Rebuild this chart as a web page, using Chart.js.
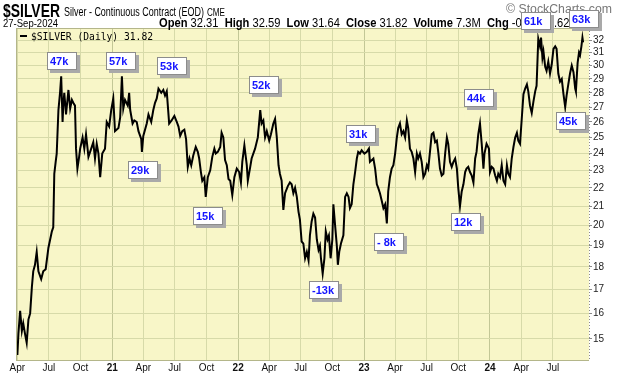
<!DOCTYPE html>
<html>
<head>
<meta charset="utf-8">
<script src="https://cdn.jsdelivr.net/npm/chart.js@4.4.1/dist/chart.umd.min.js"></script>
<style>
    html, body { margin: 0; padding: 0; background: #fff; }
    #wrap { width: 620px; height: 376px; }
</style>
</head>
<body>
<div id="wrap"><canvas id="silverChart" width="620" height="376"></canvas></div>
<script>
var dates = [
    '2020-04-01','2020-04-04','2020-04-09','2020-04-14','2020-04-18','2020-04-23','2020-04-28','2020-05-03','2020-05-08','2020-05-13',
    '2020-05-17','2020-05-22','2020-05-27','2020-06-01','2020-06-09','2020-06-15','2020-06-22','2020-06-30','2020-07-10','2020-07-14',
    '2020-07-17','2020-07-21','2020-07-24','2020-07-29','2020-08-03','2020-08-06','2020-08-10','2020-08-12','2020-08-15','2020-08-20',
    '2020-08-27','2020-09-01','2020-09-06','2020-09-10','2020-09-15','2020-09-18','2020-09-22','2020-09-27','2020-09-30','2020-10-07',
    '2020-10-12','2020-10-17','2020-10-24','2020-11-01','2020-11-07','2020-11-12','2020-11-17','2020-11-22','2020-11-27','2020-12-03',
    '2020-12-11','2020-12-16','2020-12-23','2020-12-29','2021-01-04','2021-01-09','2021-01-19','2021-01-24','2021-01-29','2021-02-02',
    '2021-02-07','2021-02-15','2021-02-19','2021-02-22','2021-03-01','2021-03-06','2021-03-13','2021-03-18','2021-03-26','2021-03-28',
    '2021-04-01','2021-04-11','2021-04-16','2021-04-24','2021-04-30','2021-05-05','2021-05-10','2021-05-15','2021-05-23','2021-05-29',
    '2021-06-03','2021-06-08','2021-06-15','2021-06-22','2021-06-30','2021-07-07','2021-07-12','2021-07-17','2021-07-23','2021-07-29',
    '2021-08-03','2021-08-08','2021-08-13','2021-08-18','2021-08-24','2021-08-31','2021-09-06','2021-09-10','2021-09-15','2021-09-19',
    '2021-09-25','2021-09-29','2021-10-05','2021-10-12','2021-10-18','2021-10-24','2021-10-28','2021-11-03','2021-11-10','2021-11-14',
    '2021-11-19','2021-11-24','2021-11-29','2021-12-04','2021-12-09','2021-12-15','2021-12-21','2021-12-28','2022-01-04','2022-01-09',
    '2022-01-13','2022-01-19','2022-01-26','2022-01-29','2022-02-05','2022-02-09','2022-02-19','2022-02-27','2022-03-06','2022-03-10',
    '2022-03-15','2022-03-20','2022-03-25','2022-04-01','2022-04-06','2022-04-13','2022-04-18','2022-04-23','2022-04-28','2022-05-02',
    '2022-05-07','2022-05-12','2022-05-17','2022-05-25','2022-05-31','2022-06-05','2022-06-10','2022-06-15','2022-06-20','2022-06-25',
    '2022-06-29','2022-07-04','2022-07-09','2022-07-14','2022-07-19','2022-07-24','2022-07-28','2022-08-02','2022-08-07','2022-08-12',
    '2022-08-17','2022-08-22','2022-08-26','2022-08-29','2022-09-03','2022-09-08','2022-09-12','2022-09-17','2022-09-21','2022-09-26',
    '2022-10-01','2022-10-04','2022-10-09','2022-10-14','2022-10-17','2022-10-21','2022-10-26','2022-11-02','2022-11-07','2022-11-12',
    '2022-11-17','2022-11-21','2022-11-26','2022-12-01','2022-12-06','2022-12-11','2022-12-15','2022-12-20','2022-12-25','2023-01-02',
    '2023-01-09','2023-01-15','2023-01-18','2023-01-28','2023-02-02','2023-02-07','2023-02-11','2023-02-16','2023-02-21','2023-02-26',
    '2023-03-03','2023-03-08','2023-03-12','2023-03-17','2023-03-22','2023-03-27','2023-04-01','2023-04-06','2023-04-10','2023-04-15',
    '2023-04-20','2023-04-25','2023-04-30','2023-05-05','2023-05-09','2023-05-14','2023-05-19','2023-05-24','2023-05-29','2023-06-03',
    '2023-06-07','2023-06-12','2023-06-17','2023-06-22','2023-06-27','2023-07-02','2023-07-06','2023-07-11','2023-07-16','2023-07-21',
    '2023-07-26','2023-07-31','2023-08-04','2023-08-09','2023-08-14','2023-08-19','2023-08-24','2023-08-29','2023-09-02','2023-09-07',
    '2023-09-12','2023-09-17','2023-09-22','2023-09-27','2023-10-01','2023-10-06','2023-10-11','2023-10-16','2023-10-21','2023-10-25',
    '2023-10-30','2023-11-04','2023-11-09','2023-11-14','2023-11-19','2023-11-23','2023-11-28','2023-12-03','2023-12-08','2023-12-13',
    '2023-12-16','2023-12-22','2023-12-29','2024-01-01','2024-01-06','2024-01-11','2024-01-16','2024-01-21','2024-01-25','2024-01-30',
    '2024-02-04','2024-02-09','2024-02-14','2024-02-19','2024-02-23','2024-02-28','2024-03-04','2024-03-09','2024-03-14','2024-03-19',
    '2024-03-23','2024-03-28','2024-04-02','2024-04-07','2024-04-12','2024-04-17','2024-04-21','2024-04-26','2024-05-01','2024-05-06',
    '2024-05-11','2024-05-15','2024-05-20','2024-05-25','2024-05-28','2024-06-01','2024-06-04','2024-06-09','2024-06-13','2024-06-18',
    '2024-06-23','2024-06-28','2024-07-03','2024-07-08','2024-07-12','2024-07-17','2024-07-22','2024-07-27','2024-08-01','2024-08-06',
    '2024-08-10','2024-08-15','2024-08-20','2024-08-25','2024-08-30','2024-09-04','2024-09-06','2024-09-11','2024-09-15','2024-09-18',
    '2024-09-22','2024-09-25','2024-09-27'
];
var closes = [
    14.4, 15.2, 16.1, 15.3, 15.6, 15.2, 14.85, 15.75, 16.0, 17.1,
    17.8, 18.1, 18.7, 17.8, 17.45, 17.8, 17.9, 18.9, 19.7, 19.9,
    22.8, 23.5, 24.0, 26.8, 28.1, 29.2, 26.0, 27.1, 28.0, 26.5,
    28.2, 26.9, 27.5, 27.3, 27.1, 24.3, 23.1, 23.8, 24.3, 25.0,
    24.3, 25.2, 23.8, 24.3, 24.7, 23.7, 24.6, 24.0, 22.6, 24.0,
    24.3, 26.0, 25.7, 26.8, 27.6, 25.4, 25.6, 26.3, 29.2, 26.9,
    27.5, 27.1, 28.0, 26.8, 25.9, 26.1, 26.0, 25.4, 24.9, 24.1,
    25.1, 25.9, 26.5, 26.0, 26.8, 27.3, 27.6, 28.3, 28.0, 28.2,
    27.8, 28.1, 25.9, 26.1, 26.4, 26.0, 25.7, 25.1, 25.4, 25.5,
    24.9, 23.2, 23.7, 23.3, 23.9, 24.4, 24.1, 23.7, 22.9, 22.4,
    22.6, 21.5, 22.6, 23.0, 23.8, 24.3, 24.0, 24.1, 24.4, 25.3,
    25.0, 23.6, 23.3, 22.5, 22.4, 21.6, 22.6, 23.1, 22.9, 22.3,
    23.5, 24.5, 23.3, 22.4, 23.2, 23.7, 24.3, 25.0, 26.8, 25.9,
    26.1, 25.0, 25.4, 24.8, 25.2, 25.9, 26.2, 25.0, 23.3, 22.8,
    22.4, 20.8, 21.7, 22.1, 22.3, 22.2, 21.7, 22.0, 21.5, 20.7,
    20.3, 19.2, 19.1, 18.4, 18.7, 18.3, 19.5, 20.2, 20.6, 20.4,
    19.3, 18.8, 19.0, 18.4, 17.7, 18.4, 19.7, 19.3, 19.5, 18.4,
    19.3, 21.1, 20.0, 19.0, 18.1, 18.7, 19.1, 19.5, 21.5, 21.7,
    21.5, 20.9, 21.1, 22.2, 22.9, 23.7, 24.1, 24.0, 24.2, 24.0,
    24.1, 24.3, 23.5, 23.7, 23.1, 22.2, 22.0, 21.7, 21.3, 20.9,
    21.1, 20.1, 21.8, 22.6, 23.1, 23.3, 24.0, 25.0, 25.6, 25.9,
    25.2, 25.4, 25.0, 26.1, 25.6, 24.3, 24.1, 23.7, 22.9, 24.0,
    23.7, 24.0, 23.5, 22.6, 22.8, 23.3, 23.1, 24.1, 25.2, 25.3,
    24.7, 24.8, 24.1, 23.1, 22.7, 22.8, 24.0, 25.0, 24.6, 23.5,
    23.2, 23.5, 23.7, 23.1, 22.0, 21.0, 21.8, 22.2, 22.9, 23.1,
    23.2, 22.9, 22.7, 22.3, 23.7, 24.1, 25.2, 25.9, 24.6, 23.1,
    24.0, 24.6, 24.3, 22.9, 23.2, 23.1, 22.7, 22.4, 22.8, 22.6,
    23.3, 22.4, 22.2, 23.3, 22.8, 22.6, 23.7, 24.4, 25.0, 25.3,
    24.8, 24.6, 26.2, 27.9, 28.3, 28.6, 28.1, 27.1, 26.6, 27.4,
    28.1, 28.5, 32.1, 31.5, 32.2, 30.6, 31.1, 29.9, 29.6, 30.3,
    29.4, 30.1, 31.3, 31.5, 31.3, 29.4, 28.8, 29.0, 27.9, 27.0,
    27.8, 28.6, 29.4, 30.0, 29.5, 28.3, 28.1, 30.2, 31.0, 30.8,
    31.5, 32.2, 31.82
];

var xTickDates = ['2020-04-01','2020-07-01','2020-10-01','2021-01-01','2021-04-01','2021-07-01','2021-10-01','2022-01-01','2022-04-01',
    '2022-07-01','2022-10-01','2023-01-01','2023-04-01','2023-07-01','2023-10-01','2024-01-01','2024-04-01','2024-07-01'];
var xTickLabels = ['Apr','Jul','Oct','21','Apr','Jul','Oct','22','Apr','Jul','Oct','23','Apr','Jul','Oct','24','Apr','Jul'];
var yTicks = [15, 16, 17, 18, 19, 20, 21, 22, 23, 24, 25, 26, 27, 28, 29, 30, 31, 32];

// boxed labels: text, date and price of the box's top-left corner
var noteLabels = ['47k', '57k', '53k', '29k', '15k', '52k', '-13k', '31k', '- 8k', '12k', '44k', '45k', '61k', '63k'];
var noteDates = ['2020-06-26', '2020-12-15', '2021-05-11', '2021-02-16', '2021-08-23', '2022-02-01', '2022-07-25',
    '2022-11-09', '2023-01-30', '2023-09-10', '2023-10-17', '2024-07-10', '2024-04-01', '2024-08-18'];
var notePrices = [31.04, 31.04, 30.65, 23.55, 20.96, 29.21, 17.37, 25.80, 19.62, 20.64, 28.26, 26.64, 34.35, 34.52];

var quoteNames = ['Open', 'High', 'Low', 'Close', 'Volume', 'Chg'];
var quoteValues = ['32.31', '32.59', '31.64', '31.82', '7.3M', '-0.20 (-0.62%)'];

document.addEventListener("DOMContentLoaded", function () {
    var plotYellow = '#f8f6c8';
    var gridColor = '#d7daa9';
    var yearGridColor = '#c3c796';

    function dayNum(s) {
        var p = s.split('-');
        return Date.UTC(+p[0], +p[1] - 1, +p[2]) / 86400000;
    }

    function isYear(i) {
        return /^\d+$/.test(xTickLabels[i] || '');
    }

    function fitText(c, text, x, y, width) {
        var w = c.measureText(text).width;
        c.save();
        c.translate(x, y);
        c.scale(width / w, 1);
        c.fillText(text, 0, 0);
        c.restore();
    }

    var points = dates.map(function (d, i) {
        return { x: dayNum(d), y: closes[i] };
    });

    var paperPlugin = {
        id: 'paper',
        beforeDraw: function (chart) {
            var c = chart.ctx, a = chart.chartArea;
            c.save();
            c.fillStyle = '#ffffff';
            c.fillRect(0, 0, chart.width, chart.height);
            c.fillStyle = plotYellow;
            c.fillRect(a.left, a.top, a.right - a.left, a.bottom - a.top);
            c.restore();
        },
        afterDatasetsDraw: function (chart) {
            var c = chart.ctx, a = chart.chartArea;
            c.save();
            c.strokeStyle = '#b4b68a';
            c.lineWidth = 1;
            c.beginPath();
            c.moveTo(a.left + 0.5, a.top);
            c.lineTo(a.left + 0.5, a.bottom);
            c.moveTo(a.left, a.top + 0.5);
            c.lineTo(a.right, a.top + 0.5);
            c.moveTo(a.left, a.bottom - 0.5);
            c.lineTo(a.right, a.bottom - 0.5);
            c.stroke();
            c.strokeStyle = '#8a8a8a';
            c.setLineDash([1, 2]);
            c.beginPath();
            c.moveTo(a.right + 0.5, a.top);
            c.lineTo(a.right + 0.5, a.bottom);
            c.stroke();
            c.restore();
        },
        afterDraw: function (chart) {
            var c = chart.ctx, a = chart.chartArea;
            var xs = chart.scales.x, ys = chart.scales.y;
            c.save();
            c.textBaseline = 'alphabetic';
            c.fillStyle = '#000';

            // title rows
            c.font = 'bold 18px "Liberation Sans", Arial, sans-serif';
            fitText(c, '$SILVER', 3, 17, 57);
            c.font = '12px "Liberation Sans", Arial, sans-serif';
            fitText(c, 'Silver - Continuous Contract (EOD)', 64, 16, 140);
            c.font = '10px "Liberation Sans", Arial, sans-serif';
            fitText(c, 'CME', 207, 16, 18);
            c.fillStyle = '#777';
            c.font = '12px "Liberation Sans", Arial, sans-serif';
            fitText(c, '\u00a9 StockCharts.com', 506, 13, 106);

            c.fillStyle = '#000';
            c.font = '11px "Liberation Sans", Arial, sans-serif';
            fitText(c, '27-Sep-2024', 3, 27, 55);

            // quote line: bold names, plain values
            var runs = [];
            quoteNames.forEach(function (n, i) {
                runs.push({ t: n, b: true });
                runs.push({ t: ' ' + quoteValues[i] + (i < quoteNames.length - 1 ? '  ' : ''), b: false });
            });
            var total = 0;
            runs.forEach(function (r) {
                c.font = (r.b ? 'bold ' : '') + '12px "Liberation Sans", Arial, sans-serif';
                r.w = c.measureText(r.t).width;
                total += r.w;
            });
            var k = 424 / total;
            c.save();
            c.translate(159, 27);
            c.scale(k, 1);
            var px = 0;
            runs.forEach(function (r) {
                c.font = (r.b ? 'bold ' : '') + '12px "Liberation Sans", Arial, sans-serif';
                c.fillText(r.t, px, 0);
                px += r.w;
            });
            c.restore();

            // legend
            c.strokeStyle = '#000';
            c.lineWidth = 2;
            c.beginPath();
            c.moveTo(a.left + 4, a.top + 8);
            c.lineTo(a.left + 11, a.top + 8);
            c.stroke();
            c.font = '10px "DejaVu Sans Mono", monospace';
            fitText(c, '$SILVER (Daily) ' + closes[closes.length - 1].toFixed(2), a.left + 15, a.top + 11.5, 122);

            // boxed notes
            c.font = 'bold 11px "Liberation Sans", Arial, sans-serif';
            noteLabels.forEach(function (lbl, i) {
                var bx = Math.round(xs.getPixelForValue(dayNum(noteDates[i])));
                var by = Math.round(ys.getPixelForValue(notePrices[i]));
                var bw = 30, bh = 18;
                c.fillStyle = '#a9a9a9';
                c.fillRect(bx + 3, by + 3, bw, bh);
                c.fillStyle = '#ffffff';
                c.fillRect(bx, by, bw, bh);
                c.strokeStyle = '#8c8c8c';
                c.lineWidth = 1;
                c.strokeRect(bx + 0.5, by + 0.5, bw - 1, bh - 1);
                c.fillStyle = '#1515ff';
                c.fillText(lbl, bx + 3, by + 13);
            });
            c.restore();
        }
    };

    var ctx = document.getElementById('silverChart').getContext('2d');

    var silverChart = new Chart(ctx, {
        type: 'line',
        data: {
            datasets: [{
                label: '$SILVER',
                data: points,
                borderColor: '#000000',
                borderWidth: 2,
                pointRadius: 0,
                tension: 0,
                fill: false
            }]
        },
        options: {
            responsive: false,
            animation: false,
            devicePixelRatio: 1,
            parsing: false,
            layout: {
                padding: { left: 16, top: 28, right: 0, bottom: 0 }
            },
            plugins: {
                legend: { display: false },
                tooltip: { enabled: false }
            },
            scales: {
                x: {
                    type: 'linear',
                    min: dayNum('2020-03-28'),
                    max: dayNum('2024-10-14'),
                    afterBuildTicks: function (scale) {
                        scale.ticks = xTickDates.map(function (d) { return { value: dayNum(d) }; });
                    },
                    afterFit: function (scale) {
                        scale.height = 15;
                    },
                    ticks: {
                        autoSkip: false,
                        maxRotation: 0,
                        padding: 1,
                        color: '#111',
                        callback: function (value, index) {
                            return xTickLabels[index];
                        },
                        font: function (context) {
                            return {
                                family: '"Liberation Sans", Arial, sans-serif',
                                size: 10,
                                weight: isYear(context.index) ? 'bold' : 'normal'
                            };
                        }
                    },
                    grid: {
                        drawTicks: false,
                        color: function (context) {
                            return isYear(context.index) ? yearGridColor : gridColor;
                        }
                    },
                    border: { display: false }
                },
                y: {
                    type: 'logarithmic',
                    position: 'right',
                    min: 14.18,
                    max: 33.0,
                    afterBuildTicks: function (scale) {
                        scale.ticks = yTicks.map(function (v) { return { value: v }; });
                    },
                    afterFit: function (scale) {
                        scale.width = 31;
                    },
                    ticks: {
                        autoSkip: false,
                        padding: 1,
                        color: '#222',
                        font: { family: '"Liberation Sans", Arial, sans-serif', size: 10 },
                        callback: function (value) {
                            return String(value);
                        }
                    },
                    grid: {
                        color: gridColor,
                        tickLength: 3,
                        tickColor: '#8a8a8a'
                    },
                    border: { display: false }
                }
            }
        },
        plugins: [paperPlugin]
    });
});
</script>
</body>
</html>
